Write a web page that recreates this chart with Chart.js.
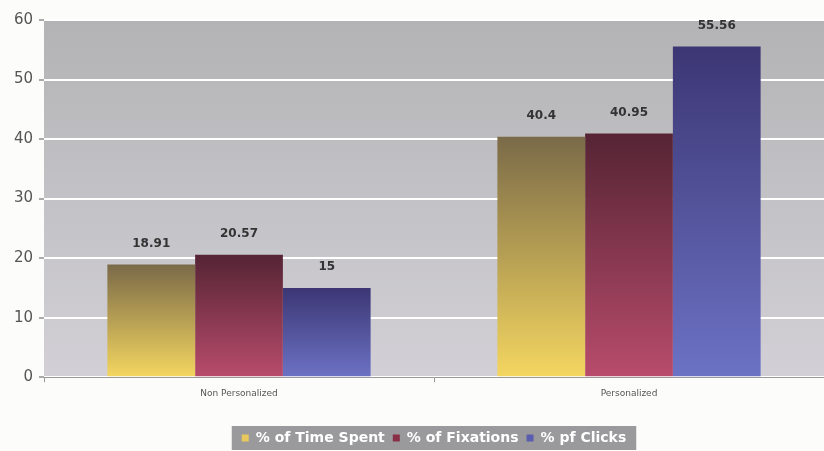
<!DOCTYPE html>
<html>
<head>
<meta charset="utf-8">
<script src="https://cdn.jsdelivr.net/npm/chart.js@4/dist/chart.umd.min.js"></script>
<style>
  html, body { margin: 0; padding: 0; background: #fcfcfa; }
  #wrap { width: 824px; height: 451px; }
</style>
</head>
<body>
<div id="wrap"><canvas id="chart" width="824" height="451"></canvas></div>
<script>
var categories = ['Non Personalized', 'Personalized'];
var timeSpent  = [18.91, 40.4];
var fixations  = [20.57, 40.95];
var clicks     = [15, 55.56];
var yTicks     = [0, 10, 20, 30, 40, 50, 60];

// top / bottom colours of each bar gradient
var grads = {
  time:  ['#7a6a48', '#f4d660'],
  fix:   ['#552434', '#b84c6c'],
  click: ['#3c3674', '#6c72c4']
};

function barGrad(pair) {
  return function (ctx) {
    var chart = ctx.chart;
    if (!chart.chartArea || ctx.parsed == null) return pair[1];
    var y = chart.scales.y;
    var top = y.getPixelForValue(ctx.parsed.y);
    var bot = y.getPixelForValue(0);
    var g = chart.ctx.createLinearGradient(0, top, 0, bot);
    g.addColorStop(0, pair[0]);
    g.addColorStop(1, pair[1]);
    return g;
  };
}

// grey gradient behind the plot
var plotBg = {
  id: 'plotBg',
  beforeDraw: function (chart) {
    var a = chart.chartArea, c = chart.ctx;
    var g = c.createLinearGradient(0, a.top, 0, a.bottom);
    g.addColorStop(0, '#b3b3b5');
    g.addColorStop(1, '#d2d0d6');
    c.save();
    c.fillStyle = g;
    c.fillRect(a.left, a.top, a.right - a.left, a.bottom - a.top);
    c.restore();
  }
};

// grey box behind the legend
var legendBg = {
  id: 'legendBg',
  beforeDraw: function (chart) {
    var l = chart.legend;
    if (!l || !l.legendHitBoxes.length) return;
    var hb = l.legendHitBoxes;
    var x0 = hb[0].left - 10;
    var last = hb[hb.length - 1];
    var x1 = last.left + last.width + 10;
    var cy = hb[0].top + hb[0].height / 2;
    var c = chart.ctx;
    c.save();
    c.fillStyle = '#9a9a9c';
    c.fillRect(x0, cy - 12, x1 - x0, 24);
    c.restore();
  }
};

// value labels above bars
var valueLabels = {
  id: 'valueLabels',
  afterDatasetsDraw: function (chart) {
    var c = chart.ctx;
    c.save();
    c.font = 'bold 12px "DejaVu Sans", sans-serif';
    c.fillStyle = '#333';
    c.textAlign = 'center';
    c.textBaseline = 'bottom';
    chart.data.datasets.forEach(function (ds, i) {
      chart.getDatasetMeta(i).data.forEach(function (bar, j) {
        c.fillText(String(ds.data[j]), bar.x, bar.y - 15);
      });
    });
    c.restore();
  }
};

new Chart(document.getElementById('chart').getContext('2d'), {
  type: 'bar',
  data: {
    labels: categories,
    datasets: [
      { label: '% of Time Spent', data: timeSpent, backgroundColor: barGrad(grads.time) },
      { label: '% of Fixations',  data: fixations, backgroundColor: barGrad(grads.fix) },
      { label: '% pf Clicks',     data: clicks,    backgroundColor: barGrad(grads.click) }
    ]
  },
  options: {
    responsive: false,
    animation: false,
    layout: { padding: { top: 20, right: 0, left: 4, bottom: -4 } },
    datasets: { bar: { barPercentage: 1, categoryPercentage: 0.675 } },
    plugins: {
      tooltip: { enabled: false },
      legend: {
        position: 'bottom',
        fullSize: false,
        labels: {
          color: '#ffffff',
          font: { family: '"DejaVu Sans", sans-serif', size: 14, weight: 'bold' },
          boxWidth: 7,
          boxHeight: 7,
          padding: 8,
          generateLabels: function (chart) {
            var cols = ['#e8c85a', '#8a2f48', '#5a5cb0'];
            return chart.data.datasets.map(function (ds, i) {
              return { text: ds.label, fillStyle: cols[i], strokeStyle: cols[i], lineWidth: 0, fontColor: '#ffffff', datasetIndex: i };
            });
          }
        }
      }
    },
    scales: {
      x: {
        offset: true,
        afterFit: function (s) { s.height += 18; },
        grid: { display: true, drawOnChartArea: false, color: '#999', tickLength: 5 },
        border: { color: '#999' },
        ticks: { color: '#555', font: { family: '"DejaVu Sans", sans-serif', size: 9 }, padding: 6 }
      },
      y: {
        min: 0, max: 60,
        afterFit: function (s) { s.width = 40; },
        afterBuildTicks: function (s) { s.ticks = yTicks.map(function (v) { return { value: v }; }); },
        grid: { color: '#ffffff', lineWidth: 2, tickColor: '#aaa', tickLength: 5 },
        border: { display: false },
        ticks: { color: '#555', font: { family: '"DejaVu Sans", sans-serif', size: 15 }, padding: 6 }
      }
    }
  },
  plugins: [plotBg, legendBg, valueLabels]
});
</script>
</body>
</html>
